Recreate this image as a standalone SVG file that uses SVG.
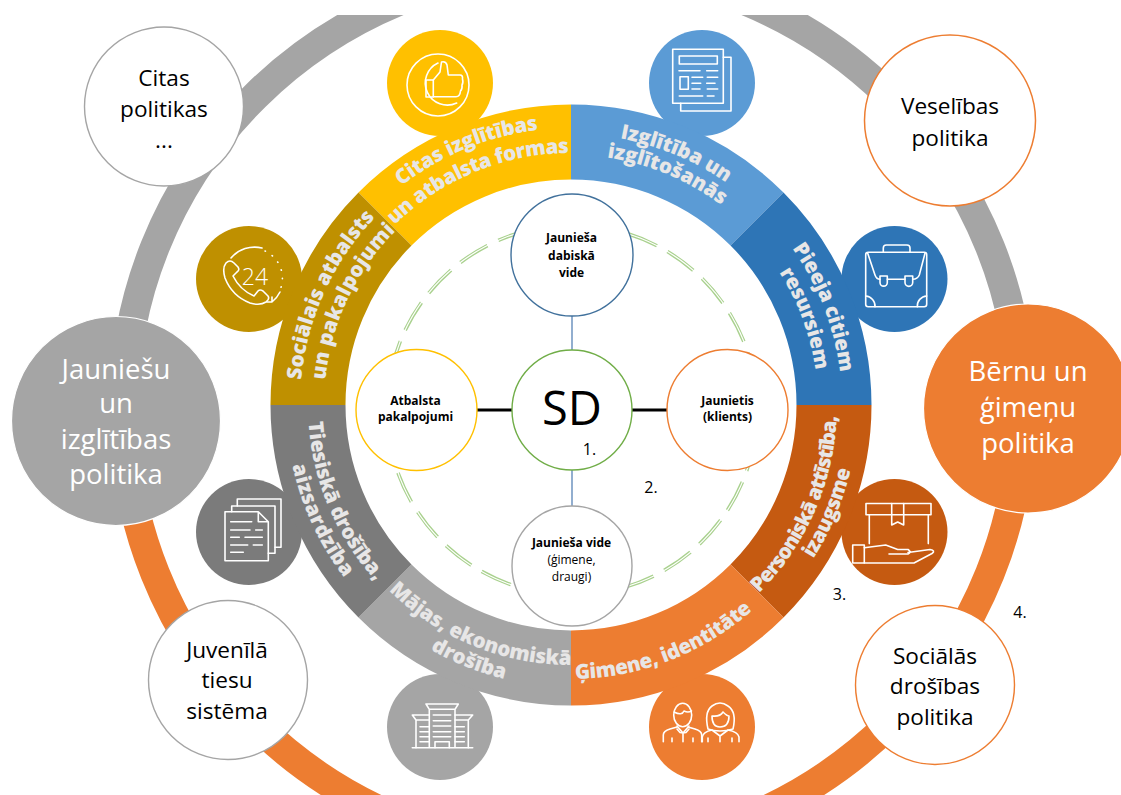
<svg xmlns="http://www.w3.org/2000/svg" xmlns:xlink="http://www.w3.org/1999/xlink" width="1121" height="795" viewBox="0 0 1121 795">
<style>
text{font-family:"Open Sans","Noto Sans","Liberation Sans",sans-serif;text-anchor:middle;fill:#000}
.big{font-size:22.6px}
.huge{font-size:27.5px;fill:#fff}
.in{font-size:12px;font-weight:700}
.inr{font-size:12px}
.num{font-size:16px}
.arc{font-size:20.5px;font-weight:800;fill:#e7e6e6;text-anchor:start}
.ic{fill:none;stroke:#fff;stroke-width:1.6;stroke-linecap:round;stroke-linejoin:round}
.n{fill:#fff;stroke-width:1.4}
</style>
<defs>
<clipPath id="crop"><rect x="0" y="15" width="1121" height="780"/></clipPath>
<path id="p1" d="M401.2 186.1A277 277 0 0 1 561.3 128.2"/>
<path id="p2" d="M394.7 225A252 252 0 0 1 579.8 153.2"/>
<path id="p3" d="M619.9 138.4A271 271 0 0 1 737.9 191.4"/>
<path id="p4" d="M607.1 157.6A250 250 0 0 1 731.7 213.5"/>
<path id="p5" d="M792.2 248.4A271 271 0 0 1 841.8 395.5"/>
<path id="p6" d="M779.3 272.3A247 247 0 0 1 817.8 396.4"/>
<path id="p7" d="M301.2 380A271 271 0 0 1 382.7 210"/>
<path id="p8" d="M325.3 380A247 247 0 0 1 399.4 227.3"/>
<path id="p9" d="M308.5 422A263 263 0 0 0 388.3 594.2"/>
<path id="p10" d="M292.4 465.2A285 285 0 0 0 352.7 588.2"/>
<path id="p11" d="M388.8 590.5A260 260 0 0 0 580.1 664.8"/>
<path id="p12" d="M430.4 649.5A282 282 0 0 0 522 682.7"/>
<path id="p13" d="M575.3 679A274 274 0 0 0 764.7 598.7"/>
<path id="p14" d="M759.1 593.1A266 266 0 0 0 836.4 386.4"/>
<path id="p15" d="M813.3 558.8A287 287 0 0 0 853.6 454.8"/>
</defs>
<rect width="1121" height="795" fill="#fff"/>

<g id="outer-ring" clip-path="url(#crop)" fill="none" stroke-width="29.5">
<path d="M123.5 410A449 443.5 0 0 1 1021.5 410" stroke="#a5a5a5"/>
<path d="M123.5 410A449 443.5 0 0 0 1021.5 410" stroke="#ed7d31"/>
</g>

<g id="icon-discs">
<circle cx="440" cy="83" r="53" fill="#ffc000"/>
<circle cx="702" cy="83" r="53" fill="#5b9bd5"/>
<circle cx="894.5" cy="279" r="53" fill="#2e75b6"/>
<circle cx="894.5" cy="532" r="53" fill="#c55a11"/>
<circle cx="702" cy="727" r="53" fill="#ed7d31"/>
<circle cx="440" cy="727" r="53" fill="#a5a5a5"/>
<circle cx="249" cy="532" r="53" fill="#7b7b7b"/>
<circle cx="249" cy="279" r="53" fill="#bf9000"/>
</g>

<g id="ring-segments">
<path id="seg-citas" fill="#ffc000" d="M358.5 192.5A300.5 300.5 0 0 1 571 104.5V179.5A225.5 225.5 0 0 0 411.5 245.5Z"/>
<path id="seg-izglitiba" fill="#5b9bd5" d="M571 104.5A300.5 300.5 0 0 1 783.5 192.5L730.5 245.5A225.5 225.5 0 0 0 571 179.5Z"/>
<path id="seg-pieeja" fill="#2e75b6" d="M783.5 192.5A300.5 300.5 0 0 1 871.5 405H796.5A225.5 225.5 0 0 0 730.5 245.5Z"/>
<path id="seg-personiska" fill="#c55a11" d="M871.5 405A300.5 300.5 0 0 1 783.5 617.5L730.5 564.5A225.5 225.5 0 0 0 796.5 405Z"/>
<path id="seg-gimene" fill="#ed7d31" d="M783.5 617.5A300.5 300.5 0 0 1 571 705.5V630.5A225.5 225.5 0 0 0 730.5 564.5Z"/>
<path id="seg-majas" fill="#a5a5a5" d="M571 705.5A300.5 300.5 0 0 1 358.5 617.5L411.5 564.5A225.5 225.5 0 0 0 571 630.5Z"/>
<path id="seg-tiesiska" fill="#7b7b7b" d="M358.5 617.5A300.5 300.5 0 0 1 270.5 405H345.5A225.5 225.5 0 0 0 411.5 564.5Z"/>
<path id="seg-socialais" fill="#bf9000" d="M270.5 405A300.5 300.5 0 0 1 358.5 192.5L411.5 245.5A225.5 225.5 0 0 0 345.5 405Z"/>
</g>

<g id="ring-labels">
<text class="arc"><textPath xlink:href="#p1" href="#p1" textLength="150" lengthAdjust="spacing">Citas izglītības</textPath></text>
<text class="arc"><textPath xlink:href="#p2" href="#p2" textLength="193" lengthAdjust="spacing">un atbalsta formas</textPath></text>
<text class="arc"><textPath xlink:href="#p3" href="#p3" textLength="116" lengthAdjust="spacing">Izglītība un</textPath></text>
<text class="arc"><textPath xlink:href="#p4" href="#p4" textLength="125" lengthAdjust="spacing">izglītošanās</textPath></text>
<text class="arc"><textPath xlink:href="#p5" href="#p5" textLength="134" lengthAdjust="spacing">Pieeja citiem</textPath></text>
<text class="arc"><textPath xlink:href="#p6" href="#p6" textLength="105" lengthAdjust="spacing">resursiem</textPath></text>
<text class="arc"><textPath xlink:href="#p7" href="#p7" textLength="182" lengthAdjust="spacing">Sociālais atbalsts</textPath></text>
<text class="arc"><textPath xlink:href="#p8" href="#p8" textLength="168" lengthAdjust="spacing">un pakalpojumi</textPath></text>
<text class="arc"><textPath xlink:href="#p9" href="#p9" textLength="176" lengthAdjust="spacing">Tiesiskā drošība,</textPath></text>
<text class="arc"><textPath xlink:href="#p10" href="#p10" textLength="125" lengthAdjust="spacing">aizsardzība</textPath></text>
<text class="arc"><textPath xlink:href="#p11" href="#p11" textLength="202" lengthAdjust="spacing">Mājas, ekonomiskā</textPath></text>
<text class="arc"><textPath xlink:href="#p12" href="#p12" textLength="80" lengthAdjust="spacing">drošība</textPath></text>
<text class="arc"><textPath xlink:href="#p13" href="#p13" textLength="194" lengthAdjust="spacing">Ģimene, identitāte</textPath></text>
<text class="arc"><textPath xlink:href="#p14" href="#p14" textLength="198" lengthAdjust="spacing">Personiskā attīstība,</textPath></text>
<text class="arc"><textPath xlink:href="#p15" href="#p15" textLength="97" lengthAdjust="spacing">izaugsme</textPath></text>
</g>

<g id="icon-thumb" class="ic">
<circle cx="438" cy="85" r="31"/>
<path d="M438 63A22 22 0 1 0 456.7 103"/>
<rect x="426" y="80" width="7.3" height="17"/>
<path d="M433.3 80L440 72L441.5 62Q446 61 447 65L448.3 75H460Q463 75 462.5 79Q463.5 83 462 85Q462.5 89 460.5 91Q460 96.7 456 96.7H433.3"/>
</g>
<g id="icon-news" class="ic">
<rect x="672.7" y="49.3" width="50.6" height="54"/>
<path d="M723.3 57.3H731V111H680.7V103.3"/>
<rect x="679.3" y="56" width="38" height="8"/>
<rect x="680" y="76.7" width="8.3" height="12.6"/>
<path d="M679 70.7H700M706.7 70.7H717.7M692 77.3H702.7M707.3 77.3H717.7M692 83.3H700.7M706.7 83.3H715M692 89H700M707.3 89H717.7M679.3 96H702.7M707.3 96H714"/>
</g>
<g id="icon-case" class="ic">
<rect x="865.7" y="252.3" width="61" height="54.4" rx="2.5"/>
<path d="M883.3 252V248Q883.3 245 886.3 245H907Q910 245 910 248V252"/>
<path d="M867.7 253.3L875 275Q876.5 279.3 880 279.3M925 253.3L919.3 275Q917.5 279.3 912.7 279.3M887.3 279.3H905"/>
<path d="M880 276H887.3V282.5A3.6 3.6 0 0 1 880 282.5ZM905 276H912.7V282.5A3.8 3.8 0 0 1 905 282.5Z"/>
<path d="M865.7 296A10 10 0 0 1 875 306.7M926.7 296A10 10 0 0 0 917.3 306.7"/>
</g>
<g id="icon-box" class="ic">
<rect x="866" y="503.5" width="65" height="11.2"/>
<path d="M869.3 514.7V543.6M928.3 514.7V543.6M891.7 503.5V525L897.7 522L903.7 525V503.5"/>
<rect x="852.7" y="545" width="11.6" height="18"/>
<path d="M864.3 547.7L885.7 545L897.7 549.5H908Q912 552 908 554H889M908 552.5L930 549.5Q936 550.5 932 553.5L914 563H864.3"/>
</g>
<g id="icon-people" class="ic" stroke-width="1.2">
<ellipse cx="682.7" cy="715" rx="9" ry="11.7"/>
<path d="M674 712Q682 716 684 711Q688 713 691.5 711"/>
<path d="M663.3 741.7V735Q663.3 731 670 729L677 727M701.7 741.7V735Q701.7 731 695 729L688 727"/>
<path d="M677 726L683 733L689 726M677 729L680 732.5L683 733L686 732.5L689 729M683 733V741.7M672 738V741.7M693 738V741.7"/>
<path d="M708 729Q704 712 712 706Q720 700 728 706Q737 712 733 729Q727 731 720 731Q713 731 708 729Z"/>
<path d="M712 716Q720 717 723 712Q727 716 729 716Q729 727 720 727Q712 727 712 716Z"/>
<path d="M702.3 741.7V737Q703 732 712 730L720 736L728 730Q738 732 739 737V741.7M720 736V741.7M708 738V741.7M732 738V741.7"/>
</g>
<g id="icon-building" class="ic" stroke-width="1.3">
<path d="M412.3 747.7H472.7M429.3 747.7V709.3H455V747.7M426 704H458.3L455 709.3H429.3Z"/>
<path d="M429.3 715H412.3L416 720H429.3M416 720V747.7M455 715H472.7L468.3 720H455M468.3 720V747.7"/>
<path d="M433.3 715H450.7M433.3 720.7H450.7M433.3 726H450.7M433.3 731.7H450.7M433.3 736.7H450.7M435 747.7V741.7H449.3V747.7"/>
<path d="M420 726.7H429.3M420 731.7H429.3M420 736.7H429.3M420 741.7H429.3M455 726.7H464.3M455 731.7H464.3M455 736.7H464.3M455 741.7H464.3"/>
</g>
<g id="icon-docs" class="ic" stroke-width="1.3">
<path d="M225 511.7H258.3L268.3 521.7V560.7H225ZM258.3 511.7V521.7H268.3"/>
<path d="M231.7 511.7V506H275V553.3H268.3"/>
<path d="M237.3 506V499H281V547.3H275"/>
<path d="M230.7 521.7H251.7M230.7 530H250M255.7 530H262.3M230.7 537.3H239.3M245 537.3H262.3M230.7 545H247.7M253.3 545H262.3M230.7 552.3H243.3"/>
</g>
<g id="icon-phone">
<path class="ic" d="M231 258A31 31 0 0 1 262 248"/>
<path class="ic" d="M226 263Q230 259 234 263L238 267Q240 270 237 272L233 276Q240 290 254 296L258 291Q260 289 263 291L268 296Q270 299 266 302Q260 306 250 303Q232 296 225 278Q222 268 226 263Z"/>
<path class="ic" d="M280 292Q277 298 272 302M272 297V302H267"/>
<path class="ic" stroke-dasharray="0.5 8" d="M265 251A30 30 0 0 1 280 290"/>
<text x="255" y="284.5" style="font-size:23px;font-weight:300;fill:#fff">24</text>
</g>

<g id="network-ring" fill="none">
<g stroke="#a9d18e" stroke-width="3.6" stroke-dasharray="32 12">
<path stroke-dashoffset="-38.6" d="M387 410A185 185 0 0 1 757 410"/>
<path stroke-dashoffset="-30" d="M757 410A185 185 0 0 1 572 595"/>
<path stroke-dashoffset="-18.4" d="M572 595A185 185 0 0 1 387 410"/>
</g>
<circle cx="572" cy="410" r="185" stroke="#fff" stroke-width="1.2"/>
</g>

<g id="connectors" fill="none">
<path stroke="#000" stroke-width="3" d="M477 410H512M632 410H667"/>
<path stroke="#6f94c0" stroke-width="1.5" d="M572 316V350M572 470V506"/>
</g>

<g id="node-sd"><circle class="n" cx="572" cy="410" r="60" stroke="#70ad47"/><text x="572" y="425" style="font-size:47px">SD</text></g>
<g id="node-daba"><circle class="n" cx="572" cy="255" r="61" stroke="#41719c"/><text class="in" x="571.5" y="242">Jaunieša</text><text class="in" x="571.5" y="259.5">dabiskā</text><text class="in" x="571.5" y="277">vide</text></g>
<g id="node-atbalsta"><circle class="n" cx="416.5" cy="410" r="60.5" stroke="#ffc000"/><text class="in" x="415.5" y="405">Atbalsta</text><text class="in" x="415.5" y="421">pakalpojumi</text></g>
<g id="node-jaunietis"><circle class="n" cx="727.5" cy="410" r="60.5" stroke="#ed7d31"/><text class="in" x="727.5" y="405">Jaunietis</text><text class="in" x="727.5" y="420.5">(klients)</text></g>
<g id="node-vide"><circle class="n" cx="572" cy="566" r="60" stroke="#a5a5a5"/><text class="in" x="571.5" y="546.5">Jaunieša vide</text><text class="inr" x="571.5" y="563.5">(ģimene,</text><text class="inr" x="571.5" y="581">draugi)</text></g>

<g id="node-citas"><circle class="n" cx="164" cy="106.5" r="79.5" stroke="#a5a5a5"/><text class="big" x="164" y="86">Citas</text><text class="big" x="164" y="116.6">politikas</text><text class="big" x="164" y="148">...</text></g>
<g id="node-veseliba"><circle class="n" cx="950" cy="120.5" r="85.5" stroke="#ed7d31" style="stroke-width:1.5"/><text class="big" x="950" y="114">Veselības</text><text class="big" x="950" y="145.5">politika</text></g>
<g id="node-jauniesu"><circle cx="116" cy="421" r="104.5" fill="#a5a5a5" stroke="#fff" stroke-width="1.2"/><text class="huge" x="116" y="379">Jauniešu</text><text class="huge" x="116" y="413">un</text><text class="huge" x="116" y="449">izglītības</text><text class="huge" x="116" y="484">politika</text></g>
<g id="node-bernu"><circle cx="1028" cy="408.5" r="104.5" fill="#ed7d31" stroke="#fff" stroke-width="1.2"/><text class="huge" x="1028" y="381">Bērnu un</text><text class="huge" x="1028" y="417">ģimeņu</text><text class="huge" x="1028" y="453">politika</text></g>
<g id="node-socialas"><circle class="n" cx="935" cy="685" r="79.5" stroke="#ed7d31"/><text class="big" x="935" y="664">Sociālās</text><text class="big" x="935" y="693.7">drošības</text><text class="big" x="935" y="725">politika</text></g>
<g id="node-juvenila"><circle class="n" cx="228" cy="680" r="79.5" stroke="#a5a5a5"/><text class="big" x="227" y="657.7">Juvenīlā</text><text class="big" x="227" y="688">tiesu</text><text class="big" x="227" y="719">sistēma</text></g>

<g id="numbers">
<text class="num" x="589.5" y="455">1.</text>
<text class="num" x="651" y="493">2.</text>
<text class="num" x="839.5" y="600">3.</text>
<text class="num" x="1020" y="617.6">4.</text>
</g>
</svg>
